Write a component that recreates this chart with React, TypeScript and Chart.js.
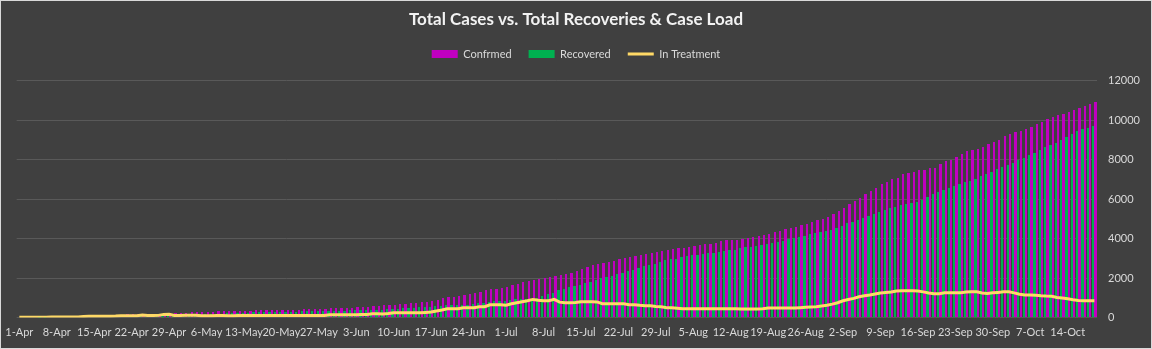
import React, { useEffect, useRef } from 'react';
import { Chart, registerables } from 'chart.js';

Chart.register(...registerables);

const TITLE = 'Total Cases vs. Total Recoveries & Case Load';
const SERIES_LABELS = ['Confrmed', 'Recovered', 'In Treatment'];
const MONTHS = ['Apr', 'May', 'Jun', 'Jul', 'Aug', 'Sep', 'Oct'];
const MONTH_DAYS = [30, 31, 30, 31, 31, 30, 31];
const DAY_COUNT = 202; // 1-Apr .. 19-Oct
const LABEL_EVERY = 7;

const Y_MIN = 0;
const Y_MAX = 12000;
const Y_STEP = 2000;

function buildDates(): string[] {
  const out: string[] = [];
  let m = 0;
  let d = 1;
  for (let i = 0; i < DAY_COUNT; i++) {
    out.push(`${d}-${MONTHS[m]}`);
    d++;
    if (d > MONTH_DAYS[m]) {
      d = 1;
      m++;
    }
  }
  return out;
}

const dates = buildDates();

const confirmed = [
  10, 12, 15, 18, 20, 22, 25, 28, 30, 32,
  35, 40, 70, 85, 95, 100, 105, 110, 120, 150,
  160, 165, 170, 175, 180, 185, 200, 210, 225, 240,
  245, 250, 270, 275,
  280, 285, 290, 320, 330, 330, 335, 335, 340, 345,
  375, 380, 385, 385, 390, 395, 395, 400, 400, 430,
  435, 440, 445, 450, 480, 485, 490, 495, 500, 510,
  530, 540, 580, 590,
  617, 620, 625, 683, 690, 717, 720, 784, 790, 818,
  885, 986, 1020, 1037, 1087, 1120, 1171, 1222, 1290, 1390,
  1424, 1441, 1492, 1525, 1643, 1694, 1778, 1829, 1896, 1947,
  1997, 2031, 2098, 2132, 2200, 2233,
  2335, 2436, 2537, 2639, 2706, 2740, 2807, 2857, 2942, 3009,
  3042, 3110, 3144, 3211, 3245, 3312, 3363, 3413, 3447, 3514,
  3530, 3548, 3616, 3649, 3717, 3725, 3750, 3851, 3919, 3925,
  3935, 3952, 4020,
  4071, 4121, 4172, 4222, 4323, 4374, 4475, 4526, 4576, 4677,
  4728, 4829, 4930, 4981, 5082, 5234, 5386, 5537, 5740, 5891,
  6077, 6245, 6397, 6549, 6751, 6852, 7004, 7089, 7257, 7308,
  7393, 7444, 7494,
  7561, 7595, 7763, 7915, 8000, 8117, 8268, 8420, 8470, 8521,
  8622, 8774, 8875, 9010, 9179, 9280, 9381, 9431, 9532, 9633,
  9785, 9903, 10038, 10139, 10240, 10291, 10426, 10493, 10594, 10695,
  10796, 10898,
];

const recovered = [
  0, 0, 0, 0, 1, 2, 3, 4, 5, 6,
  8, 10, 15, 20, 25, 30, 35, 40, 45, 50,
  60, 70, 75, 80, 85, 90, 100, 110, 120, 130,
  140, 150, 160, 170,
  175, 180, 185, 190, 200, 210, 225, 230, 235, 240,
  275, 280, 280, 285, 285, 290, 290, 295, 300, 325,
  330, 330, 335, 335, 340, 340, 345, 345, 375, 380,
  380, 385, 390, 395,
  400, 413, 420, 430, 480, 480, 490, 514, 514, 520,
  581, 600, 615, 615, 620, 630, 648, 682, 716, 750,
  783, 817, 830, 860, 880, 918, 925, 951, 960, 985,
  1087, 1188, 1222, 1390, 1440,
  1525, 1593, 1626, 1727, 1795, 1896, 1997, 2048, 2098, 2200,
  2267, 2351, 2402, 2503, 2604, 2655, 2706, 2807, 2908, 2958,
  2960, 3042, 3110, 3144, 3160, 3211, 3245, 3262, 3312, 3380,
  3413, 3420, 3497, 3548,
  3570, 3616, 3666, 3717, 3767, 3818, 3868, 3969, 4020, 4071,
  4121, 4222, 4273, 4323, 4374, 4424, 4526, 4627, 4779, 4829,
  4930, 5031, 5133, 5234, 5335, 5436, 5537, 5588, 5689, 5740,
  5800, 5870, 5950,
  6094, 6246, 6347, 6448, 6549, 6650, 6751, 6852, 6903, 7004,
  7156, 7257, 7358, 7510, 7611, 7712, 7813, 7965, 8066, 8218,
  8319, 8470, 8622, 8723, 8824, 8976, 9128, 9280, 9431, 9532,
  9583, 9684,
];

const inTreatment = [
  10, 12, 15, 18, 19, 20, 22, 24, 25, 26,
  27, 30, 55, 65, 70, 70, 70, 70, 75, 90,
  90, 90, 95, 130, 100, 100, 110, 160, 170, 110,
  110, 115, 120, 120,
  95, 95, 95, 100, 100, 95, 95, 100, 100, 100,
  100, 100, 100, 100, 105, 100, 100, 100, 100, 100,
  100, 105, 105, 110, 140, 140, 145, 145, 140, 145,
  150, 150, 190, 190,
  177, 200, 244, 244, 244, 244, 244, 244, 260, 278,
  330, 379, 446, 446, 446, 497, 497, 497, 547, 547,
  648, 648, 648, 620, 700, 750, 800, 850, 918, 880,
  850, 850, 918,
  780, 750, 745, 760, 800, 805, 800, 790, 700, 700,
  700, 700, 695, 650, 650, 620, 600, 600, 560, 547,
  500, 497, 470, 446, 446, 446, 440, 446, 446, 446,
  446, 450, 446, 440, 430, 430,
  430, 430, 440, 480, 480, 480, 480, 480, 480,
  500, 520, 531, 545, 580, 620, 680, 750, 850, 910,
  970, 1052, 1100, 1138, 1190, 1239, 1265, 1290, 1340, 1357,
  1357,
  1357, 1340, 1300, 1240, 1205, 1210, 1250, 1256, 1256, 1260,
  1290, 1306, 1300, 1240, 1222, 1250, 1272, 1300, 1306, 1250,
  1180, 1140, 1138, 1130, 1100, 1087, 1080, 1020, 990, 952,
  900, 860, 850, 850, 850,
];

const COLORS = {
  bg: '#404040',
  frame: '#D9D9D9',
  confirmed: '#C000C0',
  recovered: '#00B050',
  treatment: '#FFD966',
  grid: '#595959',
  text: '#D9D9D9',
  title: '#F2F2F2',
};

const FONT = 'Lato, "Open Sans", sans-serif';
const W = 1152;
const H = 349;

const legendSpacer = {
  id: 'legendSpacer',
  beforeLayout(chart: any) {
    const lg = chart.legend;
    if (lg && !lg.__spaced) {
      const orig = lg.fit;
      lg.fit = function () {
        orig.call(this);
        this.height += 11;
      };
      lg.__spaced = true;
    }
  },
};

// Round the library-computed bar edges to whole pixels so thin bars stay crisp.
const crispBars = {
  id: 'crispBars',
  beforeDatasetsDraw(chart: any) {
    chart.data.datasets.forEach((_: any, i: number) => {
      const meta = chart.getDatasetMeta(i);
      if (meta.type !== 'bar') return;
      meta.data.forEach((el: any) => {
        const l = Math.round(el.x - el.width / 2);
        const r = Math.round(el.x + el.width / 2);
        el.x = (l + r) / 2;
        el.width = Math.max(1, r - l);
        el.y = Math.round(el.y);
        el.base = Math.round(el.base);
      });
    });
  },
};

export default function App() {
  const ref = useRef<HTMLCanvasElement | null>(null);

  useEffect(() => {
    if (!ref.current) return;
    const chart = new Chart(ref.current, {
      type: 'bar',
      data: {
        labels: dates,
        datasets: [
          {
            type: 'bar',
            label: SERIES_LABELS[0],
            data: confirmed,
            backgroundColor: COLORS.confirmed,
            borderWidth: 0,
            categoryPercentage: 0.88,
            barPercentage: 0.96,
            order: 2,
          },
          {
            type: 'bar',
            label: SERIES_LABELS[1],
            data: recovered,
            backgroundColor: COLORS.recovered,
            borderWidth: 0,
            categoryPercentage: 0.88,
            barPercentage: 0.96,
            order: 1,
          },
          {
            type: 'line',
            label: SERIES_LABELS[2],
            data: inTreatment,
            borderColor: COLORS.treatment,
            backgroundColor: COLORS.treatment,
            borderWidth: 3,
            pointRadius: 0,
            tension: 0,
            fill: false,
            order: 0,
          },
        ] as any,
      },
      options: {
        responsive: false,
        animation: false,
        devicePixelRatio: 1,
        layout: { padding: { left: 0, right: 0, top: 0, bottom: 1.5 } },
        plugins: {
          title: {
            display: true,
            text: TITLE,
            color: COLORS.title,
            font: { family: FONT, size: 17, weight: 'bold' },
            padding: { top: 8.8, bottom: 1.3 },
          },
          legend: {
            display: true,
            position: 'top',
            labels: {
              color: COLORS.text,
              font: { family: FONT, size: 11 },
              usePointStyle: true,
              pointStyleWidth: 26,
              boxHeight: 8,
              padding: 17,
              generateLabels: (c: any) =>
                c.data.datasets.map((ds: any, i: number) => ({
                  text: ds.label,
                  fillStyle: ds.backgroundColor,
                  strokeStyle: ds.type === 'line' ? ds.borderColor : ds.backgroundColor,
                  lineWidth: ds.type === 'line' ? 3 : 0,
                  pointStyle: ds.type === 'line' ? 'line' : 'rect',
                  hidden: false,
                  datasetIndex: i,
                  fontColor: COLORS.text,
                })),
            },
          },
          tooltip: { enabled: false },
        },
        scales: {
          x: {
            grid: { display: false, drawTicks: false },
            border: { display: false },
            ticks: {
              autoSkip: false,
              maxRotation: 0,
              minRotation: 0,
              padding: 4.3,
              color: COLORS.text,
              font: { family: FONT, size: 11, lineHeight: 1.85 },
              callback: function (this: any, value: any, index: number) {
                return index % LABEL_EVERY === 0 ? this.getLabelForValue(value) : '';
              },
            },
          },
          y: {
            position: 'right',
            min: Y_MIN,
            max: Y_MAX,
            grid: { color: COLORS.grid, lineWidth: 1, drawTicks: false },
            border: { display: false },
            ticks: {
              stepSize: Y_STEP,
              padding: 11,
              color: COLORS.text,
              font: { family: FONT, size: 11 },
              callback: (value: any) => String(value),
            },
          },
        },
      } as any,
      plugins: [legendSpacer, crispBars],
    });
    return () => chart.destroy();
  }, []);

  return (
    <div
      style={{
        position: 'fixed',
        left: 0,
        top: 0,
        width: W,
        height: H,
        boxSizing: 'border-box',
        border: `1px solid ${COLORS.frame}`,
        background: COLORS.bg,
      }}
    >
      <canvas ref={ref} width={W - 2} height={H - 2} style={{ display: 'block' }} />
    </div>
  );
}
